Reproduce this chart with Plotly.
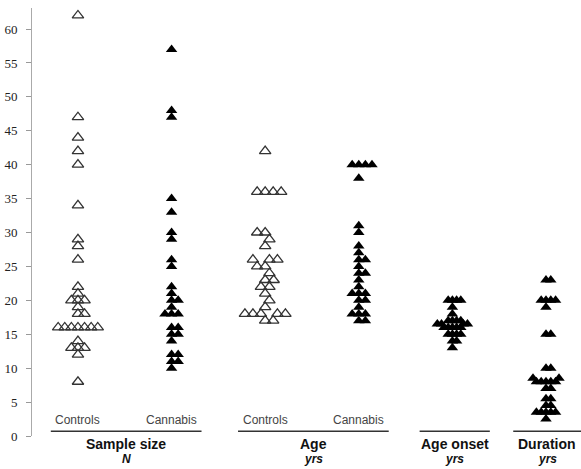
import plotly.graph_objects as go

# ---- data ----
group_names = ["Sample size", "Age", "Age onset", "Duration"]
group_units = ["N", "yrs", "yrs", "yrs"]
subgroup_labels = ["Controls", "Cannabis", "Controls", "Cannabis", "", ""]

ss_controls = [62, 47, 44, 42, 40, 34, 29, 28, 26, 22, 21, 20, 20, 20, 19, 18, 18,
               16, 16, 16, 16, 16, 16, 16, 14, 13, 13, 13, 12, 8]
ss_cannabis = [57, 48, 47, 35, 33, 30, 29, 26, 25, 22, 21, 20, 20, 19, 18, 18, 18,
               16, 16, 15, 15, 14, 12, 12, 11, 11, 10]
age_controls = [42, 36, 36, 36, 36, 30, 30, 29, 28, 26, 26, 26, 25, 25, 24, 23, 23,
                22, 22, 21, 20, 19, 18, 18, 18, 18, 18, 17, 17]
age_cannabis = [40, 40, 40, 40, 38, 31, 30, 28, 27, 26, 26, 25, 24, 24, 23, 22, 21,
                21, 21, 20, 20, 19, 18, 18, 18, 17, 17]
age_onset = [20, 20, 20, 20, 19, 18, 17, 17, 17, 17, 16.5, 16.5, 16.5, 16.5,
             16, 16, 16, 16, 16, 15, 15, 15, 15, 14, 14, 13]
duration = [23, 23, 20, 20, 20, 20, 19, 15, 15, 10, 10, 8.5, 8.5, 8, 8, 8, 8, 8,
            7, 7, 5.5, 5.5, 4.5, 4.5, 3.5, 3.5, 3.5, 3.5, 3.5, 2.5]

series = [ss_controls, ss_cannabis, age_controls, age_cannabis, age_onset, duration]
is_control = [True, False, True, False, False, False]
y_ticks = list(range(0, 65, 5))

# ---- layout / style constants ----
W, H = 581, 469
M_L, M_R, M_T, M_B = 32, 0, 8, 33
Y_MAX = 63.1
X_RANGE = [-0.491, 5.374]
SPREAD = [6.6, 6.6, 8.0, 6.6, 4.2, 4.8]   # marker separation (px) used by the swarm
px_per_cat = (W - M_L - M_R) / (X_RANGE[1] - X_RANGE[0])
px_per_unit = (H - M_T - M_B) / Y_MAX


def swarm(vals, d):
    """Simple beeswarm: offsets (in category units) so markers do not collide."""
    order = sorted(range(len(vals)), key=lambda i: vals[i])
    placed = []
    xs = [0.0] * len(vals)
    for i in order:
        y = vals[i] * px_per_unit
        cands = [0.0]
        for px, py_ in placed:
            dy = abs(py_ - y)
            if dy < d:
                h = (d * d - dy * dy) ** 0.5
                cands += [px + h, px - h]
        cands.sort(key=lambda c: (round(abs(c), 6), -c))
        for c in cands:
            if all((c - px) ** 2 + (y - py_) ** 2 >= d * d - 1e-6 for px, py_ in placed):
                xs[i] = c
                placed.append((c, y))
                break
    return [x / px_per_cat for x in xs]


def py(v):
    """data y value -> paper y"""
    return v / Y_MAX


fig = go.Figure()
for k, vals in enumerate(series):
    offs = swarm(vals, SPREAD[k])
    xs = [k + o for o in offs]
    if is_control[k]:
        marker = dict(symbol="triangle-up-open", size=10, color="#333333",
                      line=dict(width=1.3, color="#333333"))
    else:
        marker = dict(symbol="triangle-up", size=10, color="#000000",
                      line=dict(width=0))
    fig.add_trace(go.Scatter(x=xs, y=vals, mode="markers", marker=marker,
                             showlegend=False, cliponaxis=False, hoverinfo="y"))

# subgroup labels inside the plot
for k, lab in enumerate(subgroup_labels):
    if lab:
        fig.add_annotation(x=k, y=py(2.35), xref="x", yref="paper", text=lab,
                           showarrow=False, xanchor="center", yanchor="middle",
                           font=dict(family="Liberation Sans, Arial", size=12, color="#444444"))

# group brackets and labels
group_members = [[0, 1], [2, 3], [4], [5]]
for g, mem in enumerate(group_members):
    if len(mem) > 1:
        x0, x1 = mem[0] - 0.29, mem[-1] + 0.32
    else:
        x0, x1 = mem[0] - 0.35, mem[0] + 0.4
    fig.add_shape(type="line", xref="x", yref="paper", x0=x0, x1=x1, y0=py(0.7), y1=py(0.7),
                  line=dict(color="#333333", width=1.5))
    xc = (x0 + min(x1, X_RANGE[1])) / 2
    fig.add_annotation(x=xc, y=py(-1.2), xref="x", yref="paper",
                       text="<b>%s</b>" % group_names[g], showarrow=False,
                       xanchor="center", yanchor="middle",
                       font=dict(family="Liberation Sans, Arial", size=14, color="#111111"))
    fig.add_annotation(x=xc, y=py(-3.4), xref="x", yref="paper",
                       text="<b><i>%s</i></b>" % group_units[g], showarrow=False,
                       xanchor="center", yanchor="middle",
                       font=dict(family="Liberation Sans, Arial", size=12, color="#111111"))

fig.update_layout(
    width=W, height=H,
    margin=dict(l=M_L, r=M_R, t=M_T, b=M_B),
    paper_bgcolor="white", plot_bgcolor="white",
    xaxis=dict(range=X_RANGE, visible=False),
    yaxis=dict(range=[0, Y_MAX], tickvals=y_ticks, ticks="outside", ticklen=5,
               tickcolor="#999999", showline=True, linecolor="#aaaaaa", linewidth=1,
               showgrid=False, zeroline=False, ticklabelstandoff=6,
               tickfont=dict(family="Liberation Serif, Times New Roman", size=13,
                             color="#222222")),
)

fig.write_html("out.html")
